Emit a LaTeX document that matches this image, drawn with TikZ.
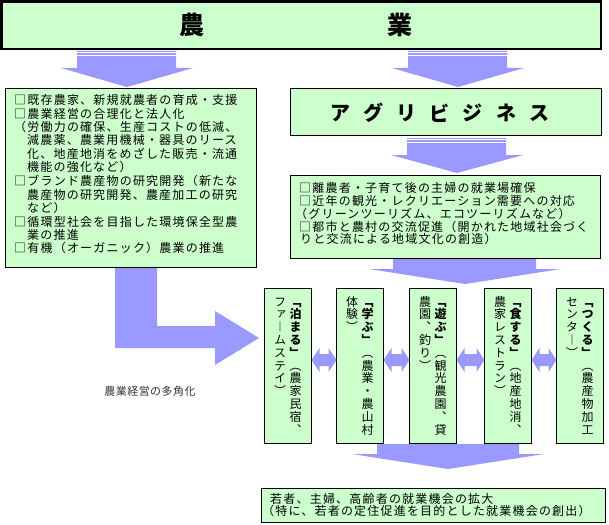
\documentclass[tikz,border=0pt]{standalone}
\usepackage{fontspec}
\usetikzlibrary{calc}
\setmainfont{Noto Sans CJK JP}
\newfontfamily\jpv[RawFeature=+vert]{Noto Sans CJK JP}
\definecolor{boxg}{HTML}{CCFFCC}
\definecolor{arrc}{HTML}{9999FF}
\makeatletter
\newcommand\vcell[1]{\hbox to 12pt{\hss\vrule width 0pt height 10.96pt depth 1.84pt\relax#1\hss}}
\newcommand\vcolr[1]{\@tfor\vc@c:=#1\do{\vcell{\vc@c}}}
\newcommand\vcolb[1]{\@tfor\vc@c:=#1\do{\vcell{\bfseries\vc@c}}}
\makeatother
\begin{document}
\begin{tikzpicture}[x=1pt,y=-1pt,
  box/.style={draw=black,line width=1pt,fill=boxg,inner sep=0pt,outer sep=0pt,anchor=north west},
  arr/.style={fill=arrc,draw=none},
  txt/.style={inner sep=0pt,anchor=base west,font=\fontsize{12}{14}\selectfont\addfontfeature{LetterSpace=10}},
  vcol/.style={inner sep=0pt,anchor=north,font=\jpv\fontsize{12}{13}\selectfont},
  stripe/.style={draw=white,line width=0.8pt},
  big/.style={inner sep=0pt,font=\fontsize{25}{25}\selectfont\bfseries},
  agri/.style={inner sep=0pt,font=\fontsize{20}{20}\selectfont\bfseries}]
\useasboundingbox (0,0) rectangle (609,524);
\fill[white] (0,0) rectangle (609,524);

% block arrows
\fill[arr] (77,51) -- (176,51) -- (176,68) -- (193,68) -- (127,87) -- (61,68) -- (77,68) -- cycle;
\draw[stripe] (77,52.8) -- (176,52.8) (77,55.3) -- (176,55.3);
\fill[arr] (408,51) -- (507,51) -- (507,68) -- (524,68) -- (458,87) -- (392,68) -- (408,68) -- cycle;
\draw[stripe] (408,52.8) -- (507,52.8) (408,55.3) -- (507,55.3);
\fill[arr] (407,138) -- (506,138) -- (506,155) -- (523,155) -- (457,173) -- (391,155) -- (407,155) -- cycle;
\draw[stripe] (407,139.8) -- (506,139.8) (407,142.3) -- (506,142.3);
\fill[arr] (393,259) -- (536,259) -- (536,269) -- (561,269) -- (465,284) -- (369,269) -- (393,269) -- cycle;
\fill[arr] (377,444) -- (519,444) -- (519,454) -- (544,454) -- (448,469) -- (352,454) -- (377,454) -- cycle;
\fill[arr] (115,268) -- (157,268) -- (157,326) -- (215,326) -- (215,311) -- (259,338) -- (215,365) -- (215,348) -- (115,348) -- cycle;

% boxes
\node[box,line width=2.5pt,minimum width=599.7pt,minimum height=47.5pt] (banner) at (1.3,1.3) {};
\node[box,minimum width=251pt,minimum height=179pt] (left) at (5.5,88.5) {};
\node[box,minimum width=311pt,minimum height=47pt] (agri) at (290.5,88.5) {};
\node[box,minimum width=310pt,minimum height=83pt] (mid) at (290.5,175.5) {};
\foreach \x [count=\i] in {264,336,409,484,556}
  \node[box,minimum width=47pt,minimum height=155pt] (b\i) at (\x+0.5,288.5) {};
\node[box,minimum width=344pt,minimum height=34pt] (bottom) at (261.5,488.5) {};

% double arrows between the boxes
\foreach \i/\j in {1/2,2/3,3/4,4/5}{
  \path ([yshift=6pt]b\i.east) coordinate (p\i) ([yshift=6pt]b\j.west) coordinate (q\i);
  \fill[arr] (p\i) -- ++(8,-12) -- ++(0,6) -- ($(q\i)+(-8,-6)$) -- ++(0,-6) -- (q\i)
    -- ++(-8,12) -- ++(0,-6) -- ($(p\i)+(8,6)$) -- ++(0,6) -- cycle;
}

% banner text
\node[big] (tno) at (192,25) {農};
\node[big] (tgyo) at (400,25) {業};

% agribusiness
\foreach \c [count=\i from 0] in {ア,グ,リ,ビ,ジ,ネ,ス}
  \node[agri] (ag\i) at (340+33.2*\i,113) {\c};

% left box text
\node[txt] (l1) at (14,104.6) {□既存農家、新規就農者の育成・支援};
\node[txt] (l2) at (14,118.0) {□農業経営の合理化と法人化};
\node[txt] (l3) at (14,131.4) {（労働力の確保、生産コストの低減、};
\node[txt] (l4) at (27,144.8) {減農薬、農業用機械・器具のリース};
\node[txt] (l5) at (27,158.2) {化、地産地消をめざした販売・流通};
\node[txt] (l6) at (27,171.6) {機能の強化など）};
\node[txt] (l7) at (14,185.8) {□ブランド農産物の研究開発（新たな};
\node[txt] (l8) at (27,199.2) {農産物の研究開発、農産加工の研究};
\node[txt] (l9) at (27,212.6) {など）};
\node[txt] (l10) at (14,226.0) {□循環型社会を目指した環境保全型農};
\node[txt] (l11) at (27,239.4) {業の推進};
\node[txt] (l12) at (14,252.8) {□有機（オーガニック）農業の推進};

% middle box text
\node[txt] (m1) at (299,192.6) {□離農者・子育て後の主婦の就業場確保};
\node[txt] (m2) at (299,205.4) {□近年の観光・レクリエーション需要への対応};
\node[txt] (m3) at (295,218.2) {（グリーンツーリズム、エコツーリズムなど）};
\node[txt] (m4) at (299,231.0) {□都市と農村の交流促進（開かれた地域社会づく};
\node[txt] (m5) at (300,243.8) {りと交流による地域文化の創造）};

% vertical texts
\node[vcol] (v1a) at (295.5,295) {\vbox{\offinterlineskip\vcolb{﹁泊まる﹂}\vcolr{︵農家民宿︑}}};
\node[vcol] (v1b) at (280,295) {\vbox{\offinterlineskip\vcolr{ファ︱ムステイ︶}}};
\node[vcol] (v2a) at (367.5,295) {\vbox{\offinterlineskip\vcolb{﹁学ぶ﹂}\vcolr{︵農業・農山村}}};
\node[vcol] (v2b) at (352,295) {\vbox{\offinterlineskip\vcolr{体験︶}}};
\node[vcol] (v3a) at (440.5,295) {\vbox{\offinterlineskip\vcolb{﹁遊ぶ﹂}\vcolr{︵観光農園︑貸}}};
\node[vcol] (v3b) at (425,295) {\vbox{\offinterlineskip\vcolr{農園︑釣り︶}}};
\node[vcol] (v4a) at (515.5,295) {\vbox{\offinterlineskip\vcolb{﹁食する﹂}\vcolr{︵地産地消︑}}};
\node[vcol] (v4b) at (500,295) {\vbox{\offinterlineskip\vcolr{農家レストラン︶}}};
\node[vcol] (v5a) at (587.5,295) {\vbox{\offinterlineskip\vcolb{﹁つくる﹂}\vcolr{︵農産物加工}}};
\node[vcol] (v5b) at (572,295) {\vbox{\offinterlineskip\vcolr{センタ︱︶}}};

% label
\node[inner sep=0pt,text=black!80,font=\fontsize{11}{11}\selectfont\addfontfeature{LetterSpace=4}] (lab) at (150,391) {農業経営の多角化};

% bottom box text
\node[txt] (bt1) at (270,503.6) {若者、主婦、高齢者の就業機会の拡大};
\node[txt] (bt2) at (262,515.4) {（特に、若者の定住促進を目的とした就業機会の創出）};
\end{tikzpicture}
\end{document}
